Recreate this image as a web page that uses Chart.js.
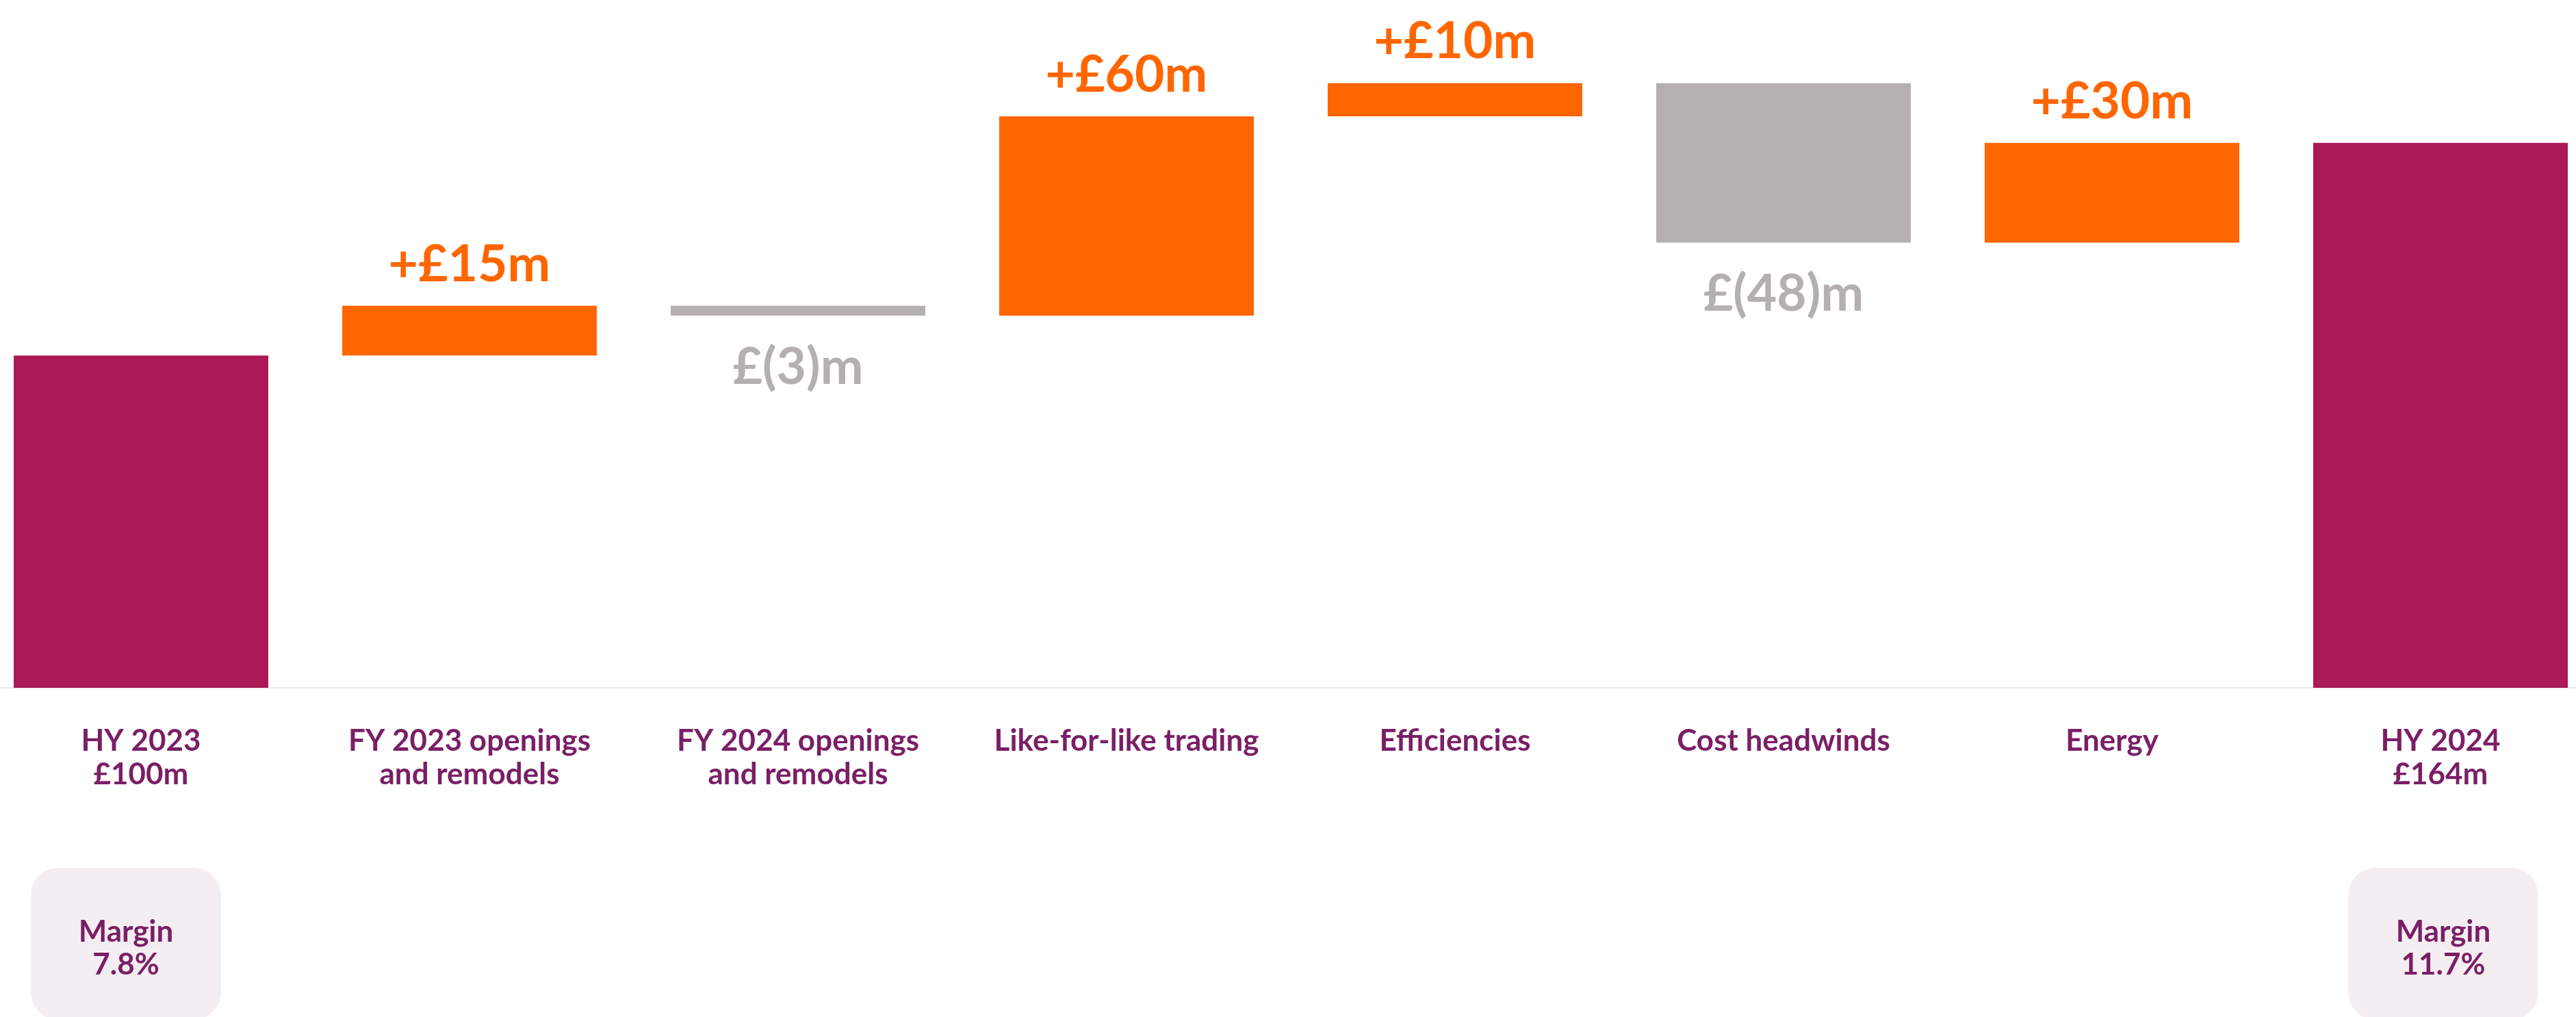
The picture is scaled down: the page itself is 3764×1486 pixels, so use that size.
<!DOCTYPE html>
<html>
<head>
<meta charset="utf-8">
<script src="https://cdn.jsdelivr.net/npm/chart.js@4.4.1/dist/chart.umd.min.js"></script>
<style>
  html, body { margin: 0; padding: 0; background: #fff; overflow: hidden; }
  #wrap { position: absolute; left: -34px; top: 0; width: 3840px; height: 1486px; }
</style>
</head>
<body>
<div id="wrap"><canvas id="bridgeChart" width="3840" height="1486"></canvas></div>
<script>
const startLabel = 'HY 2023';
const endLabel = 'HY 2024';
const stepLabels = [
  ['FY 2023 openings', 'and remodels'],
  ['FY 2024 openings', 'and remodels'],
  'Like-for-like trading',
  'Efficiencies',
  'Cost headwinds',
  'Energy'
];
const startValue = 100;
const steps = [15, -3, 60, 10, -48, 30];
const margins = ['7.8%', '11.7%'];

const colors = { total: '#AB1956', up: '#FF6600', down: '#B4B0AF', text: '#7A1F66', box: '#F4EEF2' };
const FONT = 'Lato';

// build the floating bars for the bridge
const endValue = steps.reduce((a, b) => a + b, startValue);
const bars = [[0, startValue]];
const barColors = [colors.total];
let running = startValue;
steps.forEach(d => {
  bars.push([Math.min(running, running + d), Math.max(running, running + d)]);
  barColors.push(d >= 0 ? colors.up : colors.down);
  running += d;
});
bars.push([0, endValue]);
barColors.push(colors.total);

const labels = [[startLabel, '£' + startValue + 'm'], ...stepLabels, [endLabel, '£' + endValue + 'm']];

// value labels on the step bars + margin boxes under the totals
const bridgeLabels = {
  id: 'bridgeLabels',
  afterDatasetsDraw(chart) {
    const ctx = chart.ctx;
    const meta = chart.getDatasetMeta(0);
    ctx.save();
    ctx.textAlign = 'center';
    ctx.textBaseline = 'alphabetic';
    ctx.font = 'bold 75px ' + FONT;
    steps.forEach((d, i) => {
      const bar = meta.data[i + 1];
      const top = Math.min(bar.y, bar.base);
      const bottom = Math.max(bar.y, bar.base);
      if (d >= 0) {
        ctx.fillStyle = colors.up;
        ctx.fillText('+£' + d + 'm', bar.x, top - 36);
      } else {
        ctx.fillStyle = colors.down;
        ctx.fillText('£(' + (-d) + ')m', bar.x, bottom + 100);
      }
    });

    // rounded margin boxes, nudged a little from the bar centres
    const totals = [meta.data[0], meta.data[meta.data.length - 1]];
    const nudge = [-22, 4];
    totals.forEach((bar, i) => {
      const cx = bar.x + nudge[i];
      const w = 278, h = 222, y = 1268;
      ctx.fillStyle = colors.box;
      ctx.beginPath();
      ctx.roundRect(cx - w / 2, y, w, h, 40);
      ctx.fill();
      ctx.fillStyle = colors.text;
      ctx.font = 'bold 44px ' + FONT;
      ctx.fillText('Margin', cx, 1376);
      ctx.fillText(margins[i], cx, 1424);
    });
    ctx.restore();
  }
};

const ctx = document.getElementById('bridgeChart').getContext('2d');
const bridgeChart = new Chart(ctx, {
  type: 'bar',
  data: {
    labels: labels,
    datasets: [{
      data: bars,
      backgroundColor: barColors,
      borderWidth: 0,
      categoryPercentage: 1,
      barPercentage: 0.775
    }]
  },
  options: {
    responsive: false,
    animation: false,
    layout: { padding: 0 },
    plugins: {
      legend: { display: false },
      tooltip: { enabled: false }
    },
    scales: {
      x: {
        grid: { display: false, drawTicks: false },
        border: { display: true, color: '#E8E8E8', width: 2 },
        ticks: {
          color: colors.text,
          font: { family: FONT, weight: 'bold', size: 44, lineHeight: 1.1 },
          padding: 54,
          maxRotation: 0,
          autoSkip: false
        },
        afterFit(scale) { scale.height = 481; }
      },
      y: {
        display: false,
        min: 0,
        max: 207
      }
    }
  },
  plugins: [bridgeLabels]
});
</script>
</body>
</html>
